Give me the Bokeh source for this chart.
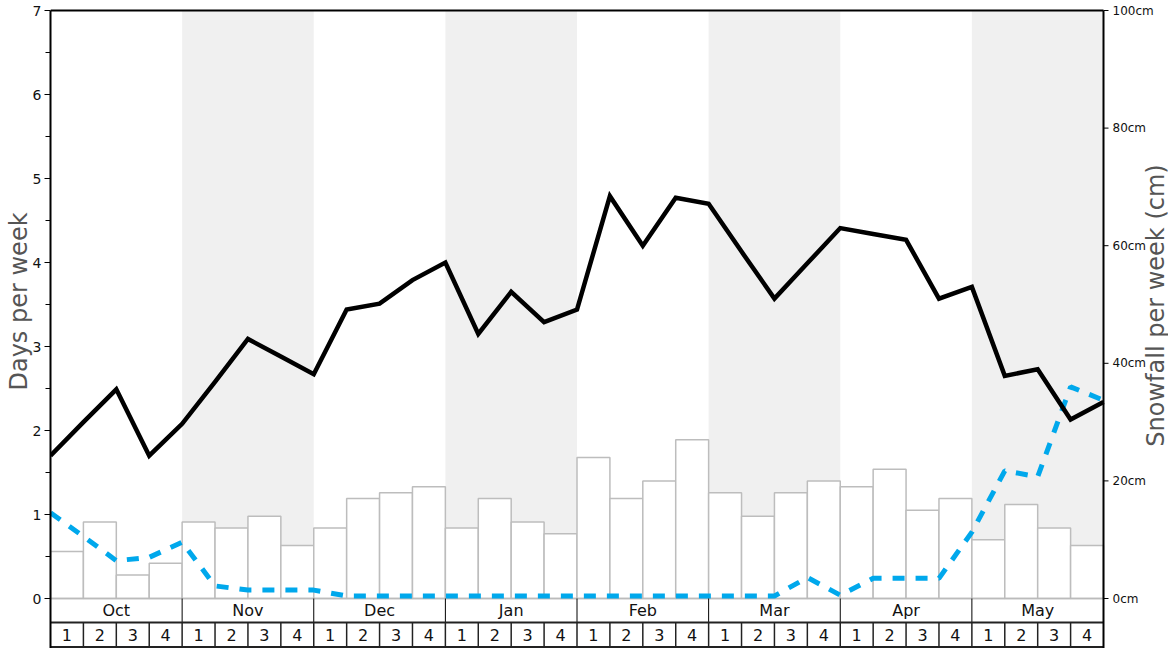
import math
from bokeh.plotting import figure
from bokeh.models import Range1d, FixedTicker
from bokeh.core.properties import value
from bokeh.embed import file_html
from bokeh.resources import INLINE

# ---------------- data ----------------
months = ["Oct", "Nov", "Dec", "Jan", "Feb", "Mar", "Apr", "May"]
week_labels = ["1", "2", "3", "4"]

# weekly snowfall (cm), one bar per week (32 weeks)
snowfall_cm = [8, 13, 4, 6, 13, 12, 14, 9, 12, 17, 18, 19, 12, 17, 13, 11,
               24, 17, 20, 27, 18, 14, 18, 20, 19, 22, 15, 17, 10, 16, 12, 9]

# days per week (black line), at week boundaries (33 points)
days_per_week = [1.70, 2.10, 2.49, 1.70, 2.08, 2.58, 3.09, 2.88, 2.67, 3.44, 3.51,
                 3.79, 4.00, 3.15, 3.65, 3.29, 3.44, 4.79, 4.20, 4.77, 4.70, 4.13,
                 3.57, 3.99, 4.41, 4.34, 4.27, 3.57, 3.71, 2.65, 2.73, 2.13, 2.34]

# second series (blue dashed), days per week
blue_days = [1.02, 0.74, 0.45, 0.49, 0.67, 0.15, 0.10, 0.10, 0.10, 0.03, 0.03,
             0.03, 0.03, 0.03, 0.03, 0.03, 0.03, 0.03, 0.03, 0.03, 0.03, 0.03,
             0.03, 0.25, 0.04, 0.24, 0.24, 0.24, 0.79, 1.52, 1.45, 2.52, 2.36]

snow_ticks = [0, 20, 40, 60, 80, 100]
snow_tick_labels = ["0cm", "20cm", "40cm", "60cm", "80cm", "100cm"]

# ---------------- layout constants ----------------
FONT = "DejaVu Sans"
PX_PER_DAY = 84.0
n_weeks = len(snowfall_cm)
n_months = len(months)
PLOT_W = 1053.0                    # width of the week area in px
FRAME_W = 1118                     # frame also holds the right-hand axis
WEEK_PX = PLOT_W / n_weeks
X_END = FRAME_W / WEEK_PX
YMIN = -50.0 / PX_PER_DAY          # bottom of frame (below zero: month/week rows)
YTOP = 7 + 8.0 / PX_PER_DAY        # a little room above the plot for the top tick label
MONTH_ROW = -24.0 / PX_PER_DAY     # boundary between month row and week row
PAD = "\u2003\u2003"               # lifts the centred axis title to the plot area centre

p = figure(frame_width=FRAME_W, frame_height=646,
           x_range=Range1d(0, X_END), y_range=Range1d(YMIN, YTOP),
           output_backend="svg", toolbar_location=None,
           min_border_left=50, min_border_right=0, min_border_top=2, min_border_bottom=0,
           x_axis_location=None, y_axis_location="left")
p.ygrid.grid_line_color = None
p.xgrid.grid_line_color = None
p.outline_line_color = None
p.background_fill_color = "white"
p.border_fill_color = "white"

p.extra_y_ranges = {"snow": Range1d(YMIN * 100.0 / 7.0, YTOP * 100.0 / 7.0)}

# shaded alternate months
shade_idx = [i for i in range(n_months) if i % 2 == 1]
p.quad(left=[4 * i for i in shade_idx], right=[4 * i + 4 for i in shade_idx],
       bottom=0, top=7, fill_color="#f0f0f0", line_color=None)

# snowfall bars
week_x = [i + 0.5 for i in range(n_weeks)]
p.vbar(x=week_x, width=1, top=snowfall_cm, bottom=0, y_range_name="snow",
       fill_color="white", line_color="#bdbdbd", line_width=1.5)

# baseline
p.segment(x0=[0], x1=[n_weeks], y0=[0], y1=[0], line_color="#bbbbbb", line_width=1.5)

# lines
pts_x = list(range(len(days_per_week)))
p.line(pts_x, blue_days, line_color="#00a8ec", line_width=5, line_dash="12 11")
p.line(pts_x, days_per_week, line_color="black", line_width=4.5, line_join="miter")

# month / week rows
p.segment(x0=[4 * i for i in range(1, n_months)], x1=[4 * i for i in range(1, n_months)],
          y0=MONTH_ROW, y1=0, line_color="black", line_width=1)
p.segment(x0=list(range(1, n_weeks)), x1=list(range(1, n_weeks)),
          y0=YMIN, y1=MONTH_ROW, line_color="#222222", line_width=1.5)
p.segment(x0=[0], x1=[n_weeks], y0=[MONTH_ROW], y1=[MONTH_ROW],
          line_color="#222222", line_width=2)
p.segment(x0=[0], x1=[n_weeks], y0=[YMIN + 1.5 / PX_PER_DAY], y1=[YMIN + 1.5 / PX_PER_DAY],
          line_color="#222222", line_width=2)

p.text(x=[4 * i + 2 for i in range(n_months)], y=MONTH_ROW / 2, text=months,
       text_font=value(FONT), text_font_size="16px", text_align="center",
       text_baseline="middle", text_color="#111111")
p.text(x=week_x, y=-36.5 / PX_PER_DAY, text=[week_labels[i % 4] for i in range(n_weeks)],
       text_font=value(FONT), text_font_size="16px", text_align="center",
       text_baseline="middle", text_color="#111111")

# top border and right-hand axis line
p.segment(x0=[0], x1=[n_weeks], y0=[7], y1=[7], line_color="black", line_width=2)
p.segment(x0=[n_weeks], x1=[n_weeks], y0=[YMIN], y1=[7], line_color="black", line_width=2)

# right-hand snowfall axis (ticks, labels, title)
p.segment(x0=[n_weeks] * len(snow_ticks), x1=[n_weeks + 5 / WEEK_PX] * len(snow_ticks),
          y0=snow_ticks, y1=snow_ticks, y_range_name="snow",
          line_color="black", line_width=1)
p.text(x=[n_weeks + 9 / WEEK_PX] * len(snow_ticks), y=snow_ticks, text=snow_tick_labels,
       y_range_name="snow", text_font=value(FONT), text_font_size="12px",
       text_align="left", text_baseline="middle", text_color="#111111")
p.text(x=[n_weeks + 52 / WEEK_PX], y=[(598 - 305) / PX_PER_DAY],
       text=["Snowfall per week (cm)"], angle=math.pi / 2,
       text_font=value(FONT), text_font_size="24px", text_align="center",
       text_baseline="middle", text_color="#555555")

# left axis
ax = p.yaxis[0]
ax.ticker = FixedTicker(ticks=list(range(0, 8)), minor_ticks=[i + 0.5 for i in range(7)])
ax.bounds = (YMIN, 7)
ax.axis_line_width = 2
ax.axis_line_color = "black"
ax.major_tick_out = 6
ax.major_tick_in = 0
ax.minor_tick_out = 5
ax.minor_tick_in = 0
ax.major_tick_line_color = "black"
ax.minor_tick_line_color = "black"
ax.major_label_text_font = FONT
ax.major_label_text_font_size = "14px"
ax.major_label_text_color = "#111111"
ax.major_label_standoff = 3
ax.axis_label = PAD + "Days per week"
ax.axis_label_text_font = FONT
ax.axis_label_text_font_size = "24px"
ax.axis_label_text_font_style = "normal"
ax.axis_label_text_color = "#555555"
ax.axis_label_standoff = -3

open("out.html", "w").write(file_html(p, INLINE))
